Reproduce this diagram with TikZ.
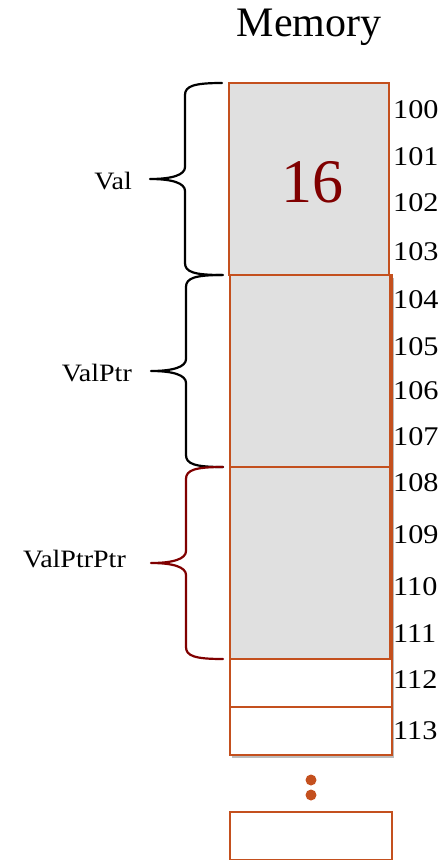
\documentclass[tikz,border=0pt]{standalone}
\usepackage{fontspec}
\setmainfont{Liberation Serif}
\newfontfamily\widefont[FakeStretch=1.12]{Liberation Serif}
\usetikzlibrary{calc,shadows}
\definecolor{cellline}{RGB}{196,80,30}
\definecolor{cellfill}{RGB}{224,224,224}
\definecolor{valred}{RGB}{128,0,0}

% curly brace drawn to the left of a 4-byte group box; #3 names its tip
\newcommand\membrace[3]{%
  \draw[bracepath,draw=#2] ($(#1.north west)+(-7,0)$)
    .. controls +(-28,0) and +(0,-9) .. ++(-37,12)
    -- ++(0,72)
    .. controls +(0,8) and +(22,0) .. ++(-35,12) coordinate (#3)
    .. controls +(22,0) and +(0,-8) .. ++(35,12)
    -- ++(0,72)
    .. controls +(0,9) and +(-28,0) .. ++(37,12);}

\begin{document}
\begin{tikzpicture}[x=1pt,y=-1pt,
  cell/.style={draw=cellline, line width=1.7pt, fill=white, minimum width=162pt,
    minimum height=48pt, inner sep=0pt, outer sep=0pt, anchor=north west},
  shadowed/.style={drop shadow={shadow xshift=1.5pt, shadow yshift=-3pt,
    opacity=0.35, fill=black!75}},
  group/.style={draw=cellline, line width=1.7pt, fill=cellfill, minimum width=160pt,
    minimum height=192pt, inner sep=0pt, outer sep=0pt, anchor=north west},
  addr/.style={anchor=west, inner sep=0pt, font=\widefont\fontsize{27}{30}\selectfont},
  varname/.style={anchor=east, inner sep=0pt, font=\widefont\fontsize{25}{28}\selectfont},
  bracepath/.style={line width=2.2pt, line join=round, line cap=round},
  dot/.style={circle, fill=cellline, minimum size=11pt, inner sep=0pt}
]
\useasboundingbox (0,0) rectangle (441,860);

% title
\node[font=\fontsize{42}{46}\selectfont] (title) at (309,27) {Memory};

% one-byte cells 100..113 (the first four sit flush under the first group)
\foreach \a [count=\i from 0] in {100,...,103}
  \node[cell,minimum width=160pt] (c\a) at (229,{83+48*\i}) {};
\foreach \a [count=\i from 4] in {104,...,113}
  \node[cell,shadowed] (c\a) at (230,{83+48*\i}) {};

% grouped 4-byte values
\node[group] (val)       at (229,83)  {};
\node[group] (valptr)    at (230,275) {};
\node[group] (valptrptr) at (230,467) {};

\node[font=\fontsize{62}{66}\selectfont, text=valred, inner sep=0pt]
  (num) at ($(val.center)+(3,3)$) {16};

% addresses
\foreach \a/\y in {100/110,101/157,102/203,103/252,104/300,105/347,106/391,
                   107/437,108/483,109/535,110/587,111/634,112/680,113/731}
  \node[addr] (a\a) at (393,\y) {\a};

% continuation dots and the next cell
\node[dot] (d1) at (311,780) {};
\node[dot] (d2) at (311,795) {};
\node[cell] (cnext) at (230,812) {};

% braces with variable names
\membrace{val}{black}{tipval}
\membrace{valptr}{black}{tipvalptr}
\membrace{valptrptr}{valred}{tipvalptrptr}

\node[varname] (nval)       at ($(tipval)+(-18,2)$)       {Val};
\node[varname] (nvalptr)    at ($(tipvalptr)+(-19,2)$)    {ValPtr};
\node[varname] (nvalptrptr) at ($(tipvalptrptr)+(-25,-4)$) {ValPtrPtr};
\end{tikzpicture}
\end{document}
